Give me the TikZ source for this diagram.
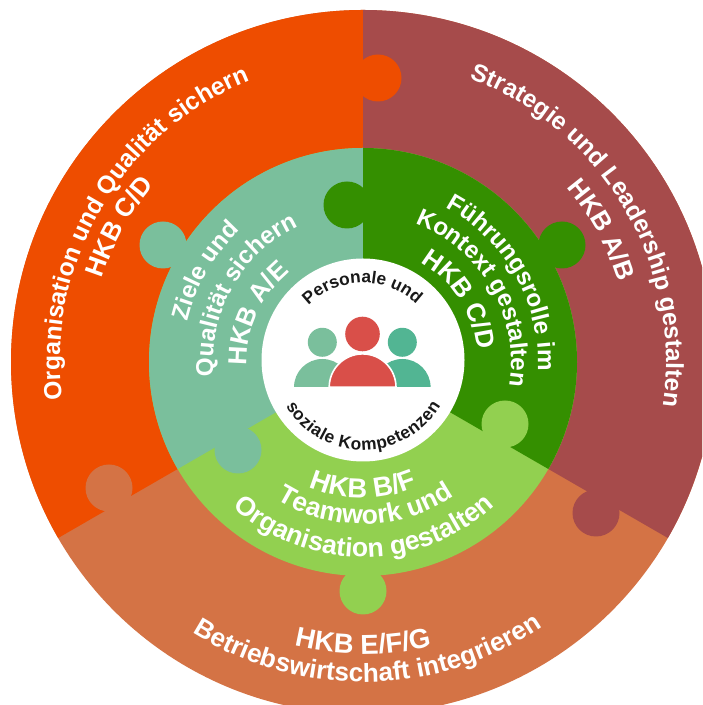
\documentclass[tikz,border=0pt]{standalone}
\usepackage{fontspec}
\setmainfont{Liberation Sans}
\usetikzlibrary{decorations.text}
\definecolor{cOrange}{HTML}{EE4D00}
\definecolor{cRed}{HTML}{A64B4B}
\definecolor{cBottom}{HTML}{D47345}
\definecolor{cTeal}{HTML}{7ABF9C}
\definecolor{cDark}{HTML}{348F00}
\definecolor{cLight}{HTML}{92D050}
\definecolor{cHead}{HTML}{D94F49}
\definecolor{cMint}{HTML}{52B593}
\newcommand\sOut{\fontsize{18.5}{20}\selectfont\bfseries}
\newcommand\sBot{\fontsize{19.6}{21}\selectfont\bfseries}
\newcommand\sHk{\fontsize{19.5}{21}\selectfont\bfseries}
\newcommand\sHkB{\fontsize{20.6}{22}\selectfont\bfseries}
\newcommand\sMid{\fontsize{18.2}{20}\selectfont\bfseries}
\newcommand\sMidB{\fontsize{19.9}{21}\selectfont\bfseries}
\newcommand\sCtr{\fontsize{13}{15}\selectfont\bfseries}
% #1 format, #2 radius, #3 centre angle, #4 half span (signed), #5 text
\newcommand\arctext[5]{%
  \path[decorate,decoration={text along path,text color=white,text align=center,
    text={|#1|#5}}]
    (363,343) ++({#3+#4}:#2) arc[start angle={#3+#4},end angle={#3-#4},radius=#2];}
\newcommand\ctrtext[5]{%
  \path[decorate,decoration={text along path,text color=black!90,text align=fit to path,
    text={|#1|#5}}]
    (363,345) ++(#3:#2) arc[start angle=#3,end angle=#4,radius=#2];}
\tikzset{knob/.style={radius=23.5}}
\begin{document}
\begin{tikzpicture}[x=0.75pt,y=0.75pt]
\useasboundingbox (0,0) rectangle (702,705);
\clip (0,0) rectangle (702,705);
% outer ring
\fill[cBottom] (363,343) circle[radius=352];
\fill[cOrange] (363,343) -- ++(90:352) arc[start angle=90,end angle=210,radius=352] -- cycle;
\fill[cRed] (363,343) -- ++(90:352) arc[start angle=90,end angle=-30,radius=352] -- cycle;
% middle ring
\fill[cLight] (363,343) circle[radius=214];
\fill[cTeal] (363,343) -- ++(90:214) arc[start angle=90,end angle=210,radius=214] -- cycle;
\fill[cDark] (363,343) -- ++(90:214) arc[start angle=90,end angle=-30,radius=214] -- cycle;
% puzzle knobs
\fill[cOrange] (378,627) circle[knob];
\fill[cRed] (596,192) circle[knob];
\fill[cBottom] (109,217) circle[knob];
\fill[cLight] (363,114) circle[knob];
\fill[cTeal] (163,460) circle[knob];
\fill[cDark] (562,460) circle[knob];
\fill[cDark] (347,500) circle[knob];
\fill[cLight] (505,281) circle[knob];
\fill[cTeal] (238,255) circle[knob];
% centre
\fill[white] (363,345) circle[radius=101.5];
\fill[cTeal] (322.3,362.7) circle[radius=14.5];
\fill[cMint] (402.3,362.7) circle[radius=14.5];
\fill[cHead] (362.5,371) circle[radius=17.3];
\fill[cTeal] (294,317.7) arc[start angle=180,end angle=0,radius=28.3] -- cycle;
\fill[cMint] (374,317.7) arc[start angle=180,end angle=0,radius=28.3] -- cycle;
\fill[cHead,draw=white,line width=1.2pt] (329.2,317.7) arc[start angle=180,end angle=0,radius=33.4] -- cycle;
\fill[white] (290,314.2) rectangle (435,317.7);
% texts
\arctext{\sOut}{303}{149.5}{45}{Organisation und Qualität sichern}
\arctext{\sHk}{274}{151}{30}{HKB C/D}
\arctext{\sOut}{303}{30.5}{50}{Strategie und Leadership gestalten}
\arctext{\sHk}{268}{29}{30}{HKB A/B}
\arctext{\sBot}{320}{270.9}{-42}{Betriebswirtschaft integrieren}
\arctext{\sHkB}{292}{270}{-35}{HKB E/F/G}
\arctext{\sMid}{180}{150}{30}{Ziele und}
\arctext{\sMid}{150}{150.4}{45}{Qualität sichern}
\arctext{\sHk}{116}{155.4}{45}{HKB A/E}
\arctext{\sMid}{175}{29.5}{45}{Führungsrolle im}
\arctext{\sMid}{148}{30}{50}{Kontext gestalten}
\arctext{\sHk}{115}{33}{40}{HKB C/D}
\arctext{\sHkB}{136}{270}{-40}{HKB B/F}
\arctext{\sMidB}{162}{271}{-45}{Teamwork und}
\arctext{\sMidB}{195}{270.4}{-55}{Organisation gestalten}
\ctrtext{\sCtr}{77}{135}{46.5}{Personale und}
\ctrtext{\sCtr}{90}{211}{329.5}{soziale Kompetenzen}
\end{tikzpicture}
\end{document}
